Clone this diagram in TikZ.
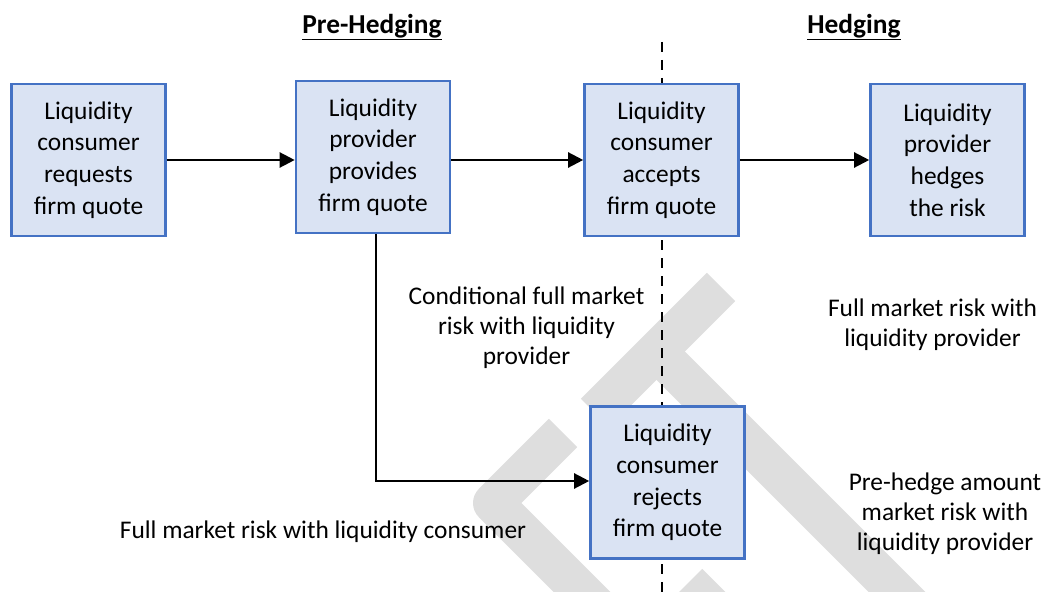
\documentclass[tikz,border=0pt]{standalone}
\usepackage{fontspec}
\setmainfont{Carlito}
\usetikzlibrary{arrows.meta}
\definecolor{boxfill}{HTML}{DAE3F3}
\definecolor{boxline}{HTML}{4472C4}
\definecolor{wm}{HTML}{DEDEDE}
\begin{document}
\begin{tikzpicture}[x=1bp,y=-1bp,
  stepbox/.style={draw=boxline, fill=boxfill, line width=2.6bp, minimum width=154bp, minimum height=152bp, inner sep=0pt, align=center, font=\fontsize{25.5}{31.7}\selectfont},
  lbl/.style={align=center, inner sep=0pt, font=\fontsize{25.5}{30.3}\selectfont},
  ttl/.style={inner sep=0pt, font=\fontsize{27.5}{33}\selectfont\bfseries},
  flow/.style={line width=2.3bp, -{Triangle[length=15bp,width=15bp]}},
  sepline/.style={line width=2.5bp, dash pattern=on 10bp off 8bp},
  wmband/.style={line width=40bp, draw=wm}]
\useasboundingbox (0,0) rectangle (1051,592);
% watermark
\begin{scope}
\clip (0,0) rectangle (1051,592);
\draw[wmband] (595,413) -- (721,287);
\draw[wmband] (656,351) -- (950,645);
\draw[wmband, line join=round] (563,433) -- (493,503) -- (600,610);
\draw[wmband] (688,583) -- (740,635);
\end{scope}
% separator
\coordinate (dtop) at (662,42);
\coordinate (dbot) at (662,592);
\draw[sepline] (dtop) -- (dbot);
% titles
\node[ttl] (t1) at (372,27) {\underline{Pre-Hedging}};
\node[ttl] (t2) at (854,27) {\underline{Hedging}};
% boxes
\node[stepbox] (b1) at (88.5,160) {Liquidity\\consumer\\requests\\firm quote};
\node[stepbox] (b2) at (373,157) {Liquidity\\provider\\provides\\firm quote};
\node[stepbox] (b3) at (661.5,160) {Liquidity\\consumer\\accepts\\firm quote};
\node[stepbox] (b4) at (947.5,160) {Liquidity\\provider\\hedges\\the risk};
\node[stepbox] (b5) at (667.5,482.5) {Liquidity\\consumer\\rejects\\firm quote};
% arrows
\coordinate (row) at (0,160);
\draw[flow] (b1.east |- row) -- (b2.west |- row);
\draw[flow] (b2.east |- row) -- (b3.west |- row);
\draw[flow] (b3.east |- row) -- (b4.west |- row);
\coordinate (turn) at (0,481);
\draw[flow] ([xshift=3bp]b2.south) |- (b5.west |- turn);
% labels
\node[lbl] (l1) at (526.5,328) {Conditional full market\\risk with liquidity\\provider};
\node[lbl] (l2) at (932.5,325) {Full market risk with\\liquidity provider};
\node[lbl] (l3) at (945,514) {Pre-hedge amount\\market risk with\\liquidity provider};
\node[lbl] (l4) at (323,532) {Full market risk with liquidity consumer};
\end{tikzpicture}
\end{document}
